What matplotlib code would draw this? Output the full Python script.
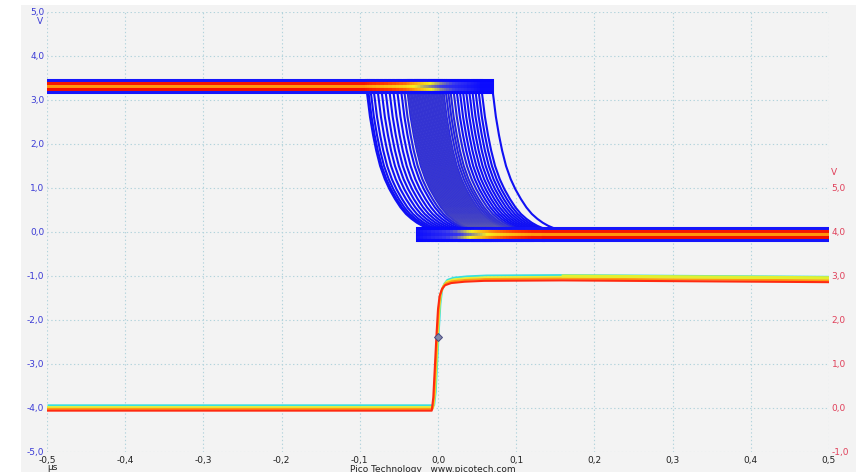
import numpy as np
import matplotlib
matplotlib.use("Agg")
import matplotlib.pyplot as plt
from matplotlib.collections import LineCollection
from matplotlib.colors import LinearSegmentedColormap
from matplotlib.patches import Rectangle

# Channel A: falling edge shape, time after edge start (us) and level (V)
edge_dt = [0.0, 0.002, 0.005, 0.009, 0.013, 0.018, 0.024, 0.030, 0.037, 0.044, 0.051,
           0.058, 0.065, 0.072, 0.080, 0.090, 0.100, 0.120]
edge_v = [3.32, 3.05, 2.62, 2.20, 1.85, 1.50, 1.20, 0.97, 0.75, 0.56, 0.41,
          0.30, 0.21, 0.14, 0.08, 0.03, 0.00, -0.04]
a_high = 3.32
a_low = -0.05
a_settle = 0.065  # time from edge start until a trace sits in the low band

# start time of each captured falling edge (us)
edge_starts = [-0.092, -0.090, -0.087, -0.083, -0.078, -0.073, -0.068, -0.063, -0.058, -0.053,
               -0.048, -0.044, -0.040, -0.038, -0.036, -0.034, -0.032, -0.030, -0.028, -0.026,
               -0.024, -0.022, -0.020, -0.018, -0.016, -0.014, -0.012, -0.010, -0.008, -0.006,
               -0.004, -0.002, 0.000, 0.002, 0.004, 0.006, 0.009, 0.012, 0.015, 0.019,
               0.023, 0.027, 0.031, 0.035, 0.039, 0.043, 0.047, 0.051, 0.055, 0.069]

# stripes inside the noise band: offset from level (V) and relative hit rate
band_dv = [0.13, 0.07, 0.0, -0.06, -0.13]
band_w = [0.05, 0.92, 0.62, 0.95, 0.05]

# Channel B (right axis): rising edge
b_t = [-0.5, -0.007, -0.005, -0.003, -0.001, 0.001, 0.003, 0.006, 0.010, 0.018, 0.035, 0.060, 0.160, 0.500]
b_v = [0.0, 0.0, 0.3, 1.0, 1.7, 2.3, 2.6, 2.76, 2.85, 2.90, 2.93, 2.95, 2.96, 2.92]
# several overlaid captures: time shift, level shift, colour
b_shift = [0.002, 0.001, 0.0, -0.001]
b_off = [0.06, 0.02, -0.02, -0.06]
b_col = ["#36e0e0", "#e6f03a", "#ff9a10", "#ff2a10"]
trig_t, trig_v = 0.0, 1.61

xticks = [-0.5, -0.4, -0.3, -0.2, -0.1, 0.0, 0.1, 0.2, 0.3, 0.4, 0.5]
yticks_a = [-5, -4, -3, -2, -1, 0, 1, 2, 3, 4, 5]
yticks_b = [-1, 0, 1, 2, 3, 4, 5]


def comma(v):
    return f"{v:.1f}".replace(".", ",").replace("-0,0", "0,0")


persist = LinearSegmentedColormap.from_list(
    "persist", [(0, "#0808ff"), (0.18, "#3a3aee"), (0.4, "#f6f020"),
                (0.6, "#ffa010"), (0.8, "#ff3a00"), (1.0, "#ee0000")])

fig = plt.figure(figsize=(8.56, 4.72), dpi=100)
fig.patch.set_facecolor("white")
fig.patches.append(Rectangle((21 / 856, 0), 1, 467 / 472, transform=fig.transFigure,
                             facecolor="#f3f3f3", edgecolor="none", zorder=-5))

ax = fig.add_axes([47 / 856, 20 / 472, 782 / 856, 440 / 472])
ax.set_facecolor("#f3f3f3")
ax.set_xlim(-0.5, 0.5)
ax.set_ylim(-5, 5)
for s in ax.spines.values():
    s.set_visible(False)
ax.set_xticks(xticks)
ax.set_xticklabels([comma(v) for v in xticks])
ax.set_yticks(yticks_a)
ax.set_yticklabels([comma(v) for v in yticks_a])
ax.tick_params(length=0, labelsize=6.5, pad=3)
ax.tick_params(axis="y", colors="#3b3bd6", pad=2)
ax.tick_params(axis="x", colors="#222222", pad=3)
ax.grid(True, color="#b2d3dc", linestyle=(0, (1.2, 2.2)), linewidth=0.8)
ax.set_axisbelow(True)

# falling traces of channel A
starts = sorted(edge_starts)
n = len(starts)
traces = [np.column_stack([np.add(edge_dt, d), edge_v]) for d in starts]
ax.add_collection(LineCollection(traces, colors="#1010f4", linewidths=1.5, zorder=2))
core = [tr for tr, d in zip(traces, starts) if -0.045 <= d <= 0.02]
ax.add_collection(LineCollection(core, colors="#f2ee30", linewidths=2.4, alpha=0.08, zorder=2.1))

# high band: density = traces still high
hi_edges = [-0.5] + starts
hi_frac = [(n - i) / n for i in range(n)]
# low band: density = traces already settled
arrive = [d + a_settle for d in starts]
lo_edges = arrive + [0.5]
lo_frac = [(i + 1) / n for i in range(n)]

for level, edges, frac in [(a_high, hi_edges, hi_frac), (a_low, lo_edges, lo_frac)]:
    for dv, w in zip(band_dv, band_w):
        segs = [[(edges[i], level + dv), (edges[i + 1], level + dv)] for i in range(len(frac))]
        cols = [persist(w * f) for f in frac]
        ax.add_collection(LineCollection(segs, colors=cols, linewidths=2.2,
                                         capstyle="projecting", zorder=3))

ax.text(-0.505, 4.78, "V", color="#3b3bd6", fontsize=6.5, ha="right", va="center")

# channel B on its own scale
ax2 = ax.twinx()
ax2.set_ylim(-1, 9)
ax2.patch.set_visible(False)
for s in ax2.spines.values():
    s.set_visible(False)
ax2.set_yticks(yticks_b)
ax2.set_yticklabels([comma(v) for v in yticks_b])
ax2.tick_params(length=0, labelsize=6.5, pad=2, colors="#e0405a")
for sh, off, col in zip(b_shift, b_off, b_col):
    ax2.plot(np.add(b_t, sh), np.add(b_v, off), color=col, linewidth=1.5, zorder=3)
late = [i for i, t in enumerate(b_t) if t >= 0.16]
ax2.plot([b_t[i] for i in late], [b_v[i] + 0.04 for i in late], color="#e2f030", linewidth=2.2, zorder=3)
ax2.plot([trig_t], [trig_v], marker="D", markersize=4.5, color="#8088aa",
         markeredgecolor="#4a4a80", markeredgewidth=0.7, zorder=5)
ax2.text(0.503, 5.35, "V", color="#e0405a", fontsize=6.5, ha="left", va="center")

fig.text(52 / 856, 4 / 472, "µs", fontsize=6.5, color="#222222", ha="center", va="center")
fig.text(433 / 856, 3 / 472, "Pico Technology   www.picotech.com", fontsize=6.5,
         color="#222222", ha="center", va="center")

fig.savefig("out.png", dpi=100, facecolor=fig.get_facecolor())
